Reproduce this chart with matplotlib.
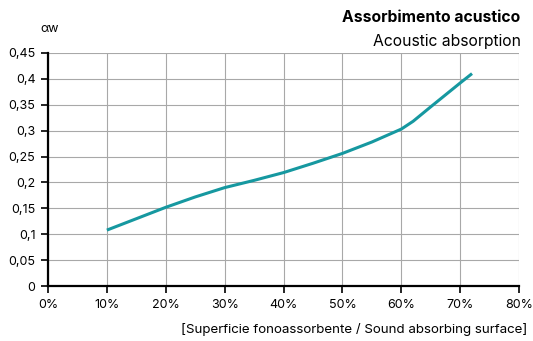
import matplotlib.pyplot as plt
from matplotlib.ticker import FuncFormatter

plt.rcParams['font.family'] = ['Inter', 'DejaVu Sans']

# surface share (%) and weighted absorption coefficient
surface = [10, 15, 20, 25, 30, 35, 40, 45, 50, 55, 60, 62, 65, 70, 72]
alpha_w = [0.108, 0.130, 0.152, 0.172, 0.190, 0.204, 0.219, 0.237, 0.256, 0.278, 0.303, 0.318, 0.346, 0.392, 0.410]

x_ticks = [0, 10, 20, 30, 40, 50, 60, 70, 80]
y_ticks = [0, 0.05, 0.1, 0.15, 0.2, 0.25, 0.3, 0.35, 0.4, 0.45]

fig = plt.figure(figsize=(5.33, 3.41), dpi=100)
ax = fig.add_axes([0.090, 0.161, 0.884, 0.684])

ax.plot(surface, alpha_w, color='#1698a0', lw=2.2, solid_capstyle='butt', zorder=3)

ax.set_xlim(0, 80)
ax.set_ylim(0, 0.45)
ax.set_xticks(x_ticks)
ax.set_yticks(y_ticks)
ax.xaxis.set_major_formatter(FuncFormatter(lambda v, p: f'{v:.0f}%'))
ax.yaxis.set_major_formatter(FuncFormatter(lambda v, p: f'{v:g}'.replace('.', ',')))
ax.grid(True, color='#a8a8a8', lw=0.8)
ax.set_axisbelow(True)

for s in ['top', 'right']:
    ax.spines[s].set_visible(False)
for s in ['left', 'bottom']:
    ax.spines[s].set_linewidth(1.6)
    ax.spines[s].set_color('black')
ax.tick_params(length=5, width=1.2, labelsize=9, pad=4, colors='black')

fig.text(0.977, 0.948, 'Assorbimento acustico', ha='right', va='center', fontsize=11.3, fontweight='bold')
fig.text(0.977, 0.877, 'Acoustic absorption', ha='right', va='center', fontsize=11.3)
fig.text(0.075, 0.915, 'αw', ha='left', va='center', fontsize=9)
fig.text(0.99, 0.035, '[Superficie fonoassorbente / Sound absorbing surface]', ha='right', va='center', fontsize=9.6)

fig.savefig('out.png', dpi=100)
